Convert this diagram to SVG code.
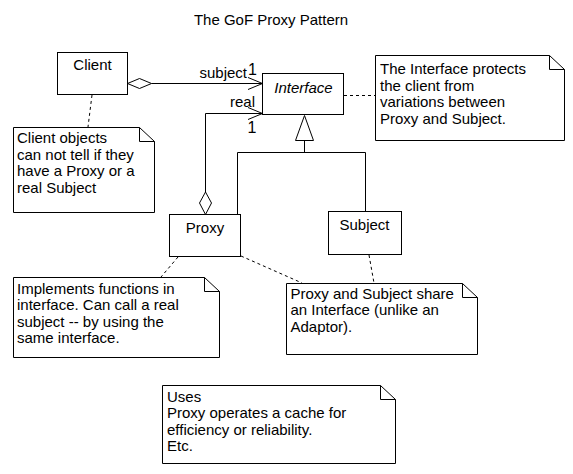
<svg xmlns="http://www.w3.org/2000/svg" width="573" height="474" viewBox="0 0 573 474">
<style>
text{font-family:"Liberation Sans",Arial,sans-serif;font-size:15px;fill:#000}
.c{text-anchor:middle}
.box{fill:#fff;stroke:#000;stroke-width:1}
.ln{fill:none;stroke:#000;stroke-width:1}
.dash{fill:none;stroke:#000;stroke-width:1;stroke-dasharray:3,3}
.dia{fill:#fff;stroke:#000;stroke-width:1}
.m{font-size:16px}
</style>
<rect width="573" height="474" fill="#fff"/>
<text class="c" x="271" y="25">The GoF Proxy Pattern</text>
<g id="connectors">
<path class="ln" d="M151.5,83.5H262.5"/>
<polygon class="dia" points="127.5,83.5 139.5,78.5 151.5,83.5 139.5,88.5"/>
<path class="ln" d="M248,77.5L262.5,83.5L248,89.5"/>
<path class="ln" d="M205.5,192V113.5H262.5"/>
<polygon class="dia" points="205.5,192 211.5,203 205.5,214.5 199.5,203"/>
<path class="ln" d="M248,107.5L262.5,113.5L248,119.5"/>
<path class="ln" d="M304.5,140.5V152.5M237.5,214.5V152.5H365.5V211.5"/>
<polygon class="dia" points="304.5,115.5 295.5,140.5 313.5,140.5"/>
<path class="dash" d="M92,95L88,127"/>
<path class="dash" d="M344,95.5H375"/>
<path class="dash" d="M178,257L161,277"/>
<path class="dash" d="M241,256L302,283"/>
<path class="dash" d="M369,255L374,283"/>
<text x="247" y="77.5" text-anchor="end">subject</text>
<text class="m" x="248" y="74.5">1</text>
<text x="255" y="106.5" text-anchor="end">real</text>
<text class="m" x="247.5" y="133">1</text>
</g>
<g id="client">
<rect class="box" x="57.5" y="52.5" width="70" height="42"/>
<text class="c" x="92.5" y="69.5">Client</text>
</g>
<g id="interface">
<rect class="box" x="262.5" y="73.5" width="81" height="41"/>
<text class="c" x="303.5" y="93" font-style="italic">Interface</text>
</g>
<g id="proxy">
<rect class="box" x="169.5" y="214.5" width="71" height="42"/>
<text class="c" x="205" y="233">Proxy</text>
</g>
<g id="subject">
<rect class="box" x="328.5" y="211.5" width="73" height="43"/>
<text class="c" x="364.5" y="229.5">Subject</text>
</g>
<g id="note-client">
<path class="box" d="M13.5,127.5H139.5L154.5,141.5V212.5H13.5Z"/>
<path class="ln" d="M139.5,127.5V141.5H154.5"/>
<text x="17" y="143">Client objects</text>
<text x="17" y="159.5">can not tell if they</text>
<text x="17" y="176">have a Proxy or a</text>
<text x="17" y="192.5">real Subject</text>
</g>
<g id="note-interface">
<path class="box" d="M375.5,55.5H549.5L564.5,69.5V140.5H375.5Z"/>
<path class="ln" d="M549.5,55.5V69.5H564.5"/>
<text x="380" y="74">The Interface protects</text>
<text x="380" y="90.5">the client from</text>
<text x="380" y="107">variations between</text>
<text x="380" y="123.5">Proxy and Subject.</text>
</g>
<g id="note-proxy">
<path class="box" d="M13.5,277.5H204.5L219.5,291.5V357.5H13.5Z"/>
<path class="ln" d="M204.5,277.5V291.5H219.5"/>
<text x="17" y="293.5">Implements functions in</text>
<text x="17" y="310">interface. Can call a real</text>
<text x="17" y="326.5">subject -- by using the</text>
<text x="17" y="343">same interface.</text>
</g>
<g id="note-share">
<path class="box" d="M286.5,283.5H462.5L477.5,297.5V354.5H286.5Z"/>
<path class="ln" d="M462.5,283.5V297.5H477.5"/>
<text x="290.5" y="298.5">Proxy and Subject share</text>
<text x="290.5" y="315">an Interface (unlike an</text>
<text x="290.5" y="331.5">Adaptor).</text>
</g>
<g id="note-uses">
<path class="box" d="M162.5,385.5H380.5L395.5,399.5V463.5H162.5Z"/>
<path class="ln" d="M380.5,385.5V399.5H395.5"/>
<text x="167" y="401.5">Uses</text>
<text x="167" y="418">Proxy operates a cache for</text>
<text x="167" y="434.5">efficiency or reliability.</text>
<text x="167" y="451">Etc.</text>
</g>
</svg>
